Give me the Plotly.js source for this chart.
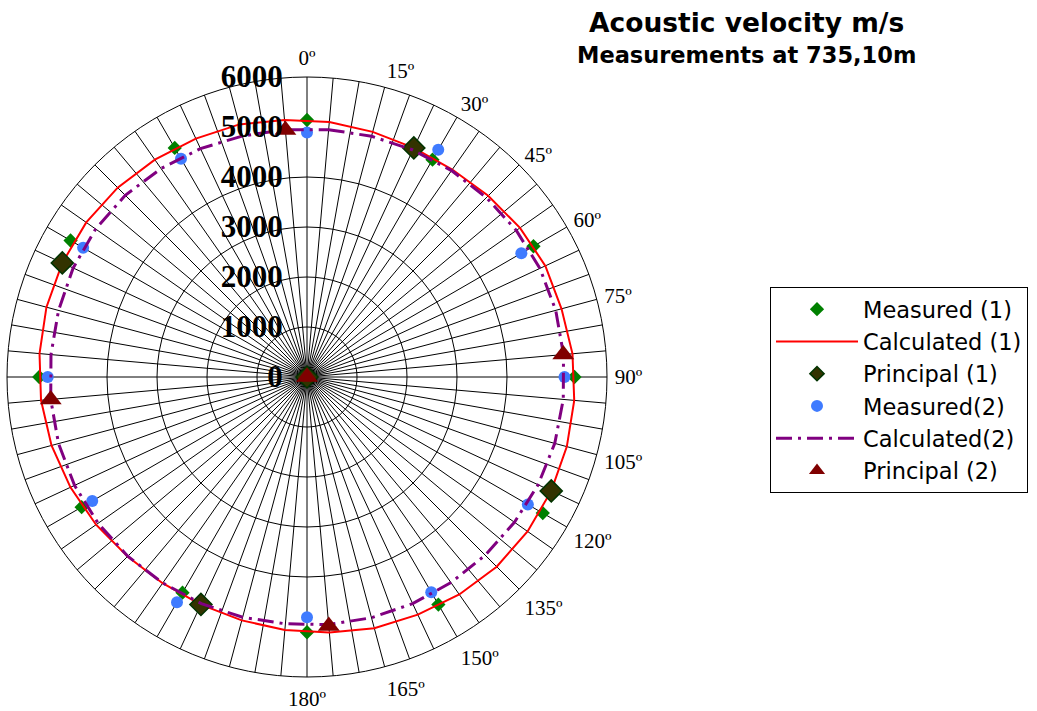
<!DOCTYPE html>
<html>
<head>
<meta charset="utf-8">
<script src="https://cdn.plot.ly/plotly-3.0.1.min.js"></script>
<style>html,body{margin:0;padding:0;background:#fff;}#chart{width:1037px;height:711px;}</style>
</head>
<body>
<div id="chart"></div>
<script>
// Measured points every 30 degrees
var measuredAngles = [0, 30, 60, 90, 120, 150, 180, 210, 240, 270, 300, 330];
var measured1 = [5140, 5020, 5230, 5350, 5445, 5255, 5105, 4980, 5205, 5355, 5460, 5290];
var measured2 = [4890, 5250, 4950, 5150, 5100, 4970, 4805, 5200, 4960, 5185, 5170, 5040];

// Principal directions
var principal1Angles = [25, 115, 205, 295];
var principal1 = [5055, 5390, 5020, 5400];
var principal2Angles = [85, 175, 265, 355];
var principal2 = [5145, 5000, 5145, 4960];

// Calculated curves (every 10 degrees, starting at 5)
var calcAngles = [5, 15, 25, 35, 45, 55, 65, 75, 85, 95, 105, 115, 125, 135, 145, 155, 165, 175,
                  185, 195, 205, 215, 225, 235, 245, 255, 265, 275, 285, 295, 305, 315, 325, 335, 345, 355];
var calculated1 = [5120, 5075, 5055, 5065, 5125, 5200, 5260, 5270, 5330, 5365, 5380, 5390, 5385, 5365, 5310, 5245, 5200, 5130,
                   5080, 5040, 5025, 5035, 5075, 5150, 5220, 5290, 5340, 5370, 5395, 5400, 5390, 5355, 5305, 5260, 5230, 5160];
var calculated2 = [4965, 4985, 5010, 5040, 5075, 5110, 5140, 5150, 5150, 5145, 5130, 5100, 5065, 5040, 5020, 5000, 4985, 4970,
                   4955, 4975, 5000, 5030, 5070, 5100, 5130, 5145, 5145, 5140, 5145, 5160, 5160, 5140, 5090, 5040, 4990, 4965];

// Zero-valued categories in the original radar chart put extra markers at the centre
var centreValue = 0;

// Axis ticks and titles
var radialTicks = [0, 1000, 2000, 3000, 4000, 5000, 6000];
var ringValues = [1000, 2000, 3000, 4000];
var angleLabelStep = 15;
var angleLabelMax = 180;
var spokeStep = 5;
var titleLine1 = 'Acoustic velocity m/s';
var titleLine2 = 'Measurements at 735,10m';

var spokeVals = [], spokeText = [];
for (var a = 0; a < 360; a += spokeStep) {
  spokeVals.push(a);
  spokeText.push((a % angleLabelStep === 0 && a <= angleLabelMax) ? (a + 'º') : '');
}

function closeLoop(arr) { return arr.concat([arr[0]]); }

var traces = [];
// grid rings (polygonal, as in a radar chart)
ringValues.forEach(function (rv) {
  var th = [], rr = [];
  for (var a = 0; a <= 360; a += spokeStep) { th.push(a); rr.push(rv); }
  traces.push({type: 'scatterpolar', mode: 'lines', r: rr, theta: th,
    line: {color: '#000', width: 1}, showlegend: false, hoverinfo: 'skip'});
});

var styleM1 = {symbol: 'diamond', size: 11, color: '#008000'};
var styleP1 = {symbol: 'diamond', size: 17, color: '#333300', line: {color: '#003300', width: 1.5}};
var styleP1Legend = {symbol: 'diamond', size: 11, color: '#333300', line: {color: '#003300', width: 1.5}};
var styleM2 = {symbol: 'circle', size: 12, color: '#3f7bff'};
var styleP2 = {symbol: 'triangle-up', size: 19, color: '#800000'};
var styleP2Legend = {symbol: 'triangle-up', size: 14, color: '#800000'};

traces.push({type: 'scatterpolar', mode: 'markers', name: 'Measured (1)', legendrank: 1,
  r: measured1.concat([centreValue]), theta: measuredAngles.concat([0]), marker: styleM1});
traces.push({type: 'scatterpolar', mode: 'lines', name: 'Calculated (1)', legendrank: 2,
  r: closeLoop(calculated1), theta: closeLoop(calcAngles),
  line: {color: '#ff0000', width: 2}});
traces.push({type: 'scatterpolar', mode: 'markers', name: 'Principal (1)', showlegend: false,
  r: principal1.concat([centreValue]), theta: principal1Angles.concat([0]), marker: styleP1});
traces.push({type: 'scatterpolar', mode: 'markers', name: 'Principal (1)', legendrank: 3,
  r: [null], theta: [null], marker: styleP1Legend});
traces.push({type: 'scatterpolar', mode: 'markers', name: 'Measured(2)', legendrank: 4,
  r: measured2, theta: measuredAngles, marker: styleM2});
traces.push({type: 'scatterpolar', mode: 'lines', name: 'Calculated(2)', legendrank: 5,
  r: closeLoop(calculated2), theta: closeLoop(calcAngles),
  line: {color: '#800080', width: 3, dash: '16px,6px,3px,6px'}});
traces.push({type: 'scatterpolar', mode: 'markers', name: 'Principal (2)', showlegend: false,
  r: principal2.concat([centreValue]), theta: principal2Angles.concat([0]), marker: styleP2});
traces.push({type: 'scatterpolar', mode: 'markers', name: 'Principal (2)', legendrank: 6,
  r: [null], theta: [null], marker: styleP2Legend});

var layout = {
  width: 1037, height: 711,
  margin: {l: 0, r: 0, t: 0, b: 0},
  paper_bgcolor: '#fff',
  showlegend: true,
  annotations: [
    {text: titleLine1, xref: 'paper', yref: 'paper', x: 746 / 1037, y: 1 - 22 / 711,
     xanchor: 'center', yanchor: 'middle', showarrow: false,
     font: {family: 'DejaVu Sans', size: 26.5, color: '#000', weight: 'bold'}},
    {text: titleLine2, xref: 'paper', yref: 'paper', x: 746 / 1037, y: 1 - 55 / 711,
     xanchor: 'center', yanchor: 'middle', showarrow: false,
     font: {family: 'DejaVu Sans', size: 22.5, color: '#000', weight: 'bold'}}
  ],
  polar: {
    domain: {x: [7 / 1037, 607 / 1037], y: [1 - 677 / 711, 1 - 77 / 711]},
    bgcolor: '#fff',
    gridshape: 'linear',
    angularaxis: {
      rotation: 90, direction: 'clockwise',
      tickmode: 'array', tickvals: spokeVals, ticktext: spokeText,
      ticks: 'outside', ticklen: 3, tickcolor: 'rgba(0,0,0,0)',
      showgrid: true, gridcolor: '#000', gridwidth: 1,
      showline: true, linecolor: '#000', linewidth: 1,
      tickfont: {family: 'Liberation Serif', size: 21, color: '#000'}
    },
    radialaxis: {
      range: [0, 6000], angle: 90, side: 'counterclockwise',
      tickmode: 'array', tickvals: radialTicks, ticktext: radialTicks.map(String),
      tickangle: 90, ticks: 'outside', ticklen: 13, tickcolor: 'rgba(0,0,0,0)',
      showgrid: false, showline: false,
      tickfont: {family: 'Liberation Serif', size: 31, color: '#000', weight: 'bold'}
    }
  },
  legend: {
    xref: 'paper', yref: 'paper',
    x: 770 / 1037, y: 1 - 287 / 711, xanchor: 'left', yanchor: 'top',
    bordercolor: '#000', borderwidth: 1, bgcolor: '#fff',
    font: {family: 'DejaVu Sans', size: 22.5, color: '#000'},
    itemwidth: 82, tracegroupgap: 0
  }
};

Plotly.newPlot('chart', traces, layout, {displayModeBar: false, staticPlot: true});
</script>
</body>
</html>
